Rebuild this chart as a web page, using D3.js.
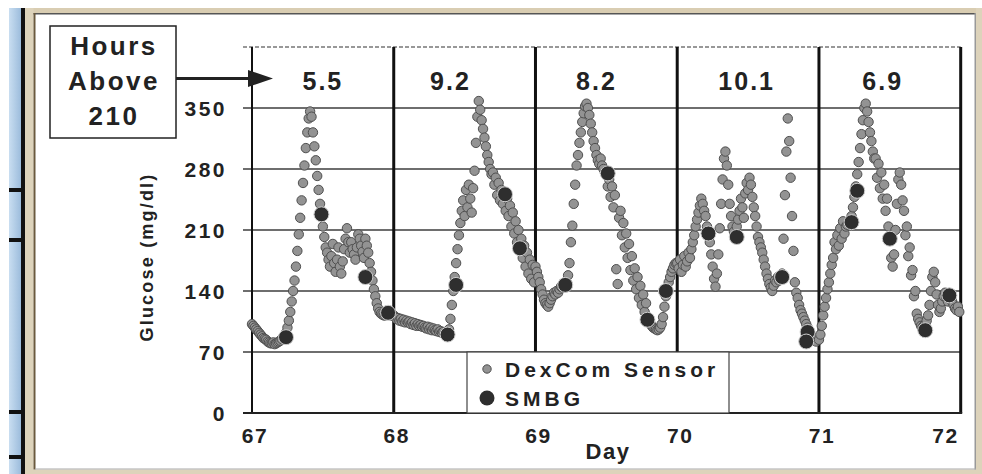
<!DOCTYPE html>
<html>
<head>
<meta charset="utf-8">
<script src="https://cdnjs.cloudflare.com/ajax/libs/d3/7.8.5/d3.min.js"></script>
<style>
body { margin: 0; background: #fff; }
svg { display: block; font-family: "Liberation Sans", Arial, sans-serif; font-weight: bold; }
</style>
</head>
<body>
<svg width="982" height="474"></svg>
<script>
const days = [67, 68, 69, 70, 71, 72]
const yTicks = [0, 70, 140, 210, 280, 350]
const hoursAbove = ["5.5", "9.2", "8.2", "10.1", "6.9"]
const hoursAt = [67.5, 68.4, 69.43, 70.49, 71.45]

// sensor readings, one every 0.01 day starting at each day
const sensorStep = 0.01
const sensor67 = [
  102, 100, 98, 96, 94, 92, 90, 88, 86, 85,
  84, 82, 81, 80, 80, 81, 79, 80, 81, 82,
  83, 85, 87, 89, 92, 98, 106, 116, 128, 140,
  152, 168, 186, 205, 224, 244, 264, 284, 304, 322,
  338, 346, 340, 322, 306, 290, 272, 256, 240, 226,
  214, 202, 190, 184, 176, 168, 180, 194, 172, 162,
  176, 190, 168, 160, 174, 188, 200, 212, 196, 184,
  196, 188, 182, 176, 190, 205, 200, 192, 185, 178,
  200, 192, 184, 172, 162, 152, 142, 134, 126, 120,
  116, 114, 113, 112, 112, 113, 114, 113, 112, 112]
const sensor68 = [
  112, 110, 108, 109, 106, 108, 105, 107, 104, 106,
  104, 105, 102, 104, 101, 103, 100, 102, 100, 101,
  99, 100, 98, 97, 99, 96, 98, 95, 97, 95,
  94, 96, 93, 94, 92, 93, 91, 92, 93, 96,
  108, 124, 140, 156, 172, 188, 204, 218, 232, 244,
  226, 256, 236, 262, 246, 230, 258, 278, 310, 340,
  358, 348, 336, 326, 316, 306, 296, 288, 280, 274,
  276, 262, 270, 250, 264, 244, 256, 240, 250, 232,
  246, 226, 238, 214, 230, 206, 220, 196, 210, 188,
  200, 178, 192, 168, 184, 160, 176, 154, 170, 150]
const sensor69 = [
  168, 162, 156, 150, 142, 136, 130, 126, 124, 122,
  126, 130, 134, 138, 136, 140, 138, 142, 145, 144,
  148, 146, 150, 158, 172, 196, 215, 240, 262, 284,
  296, 310, 322, 334, 344, 352, 355, 350, 342, 332,
  322, 312, 304, 296, 290, 286, 292, 284, 280, 276,
  274, 260, 268, 248, 260, 236, 250, 165, 148, 224,
  232, 204, 218, 190, 206, 178, 194, 164, 180, 152,
  166, 142, 156, 132, 146, 124, 136, 116, 126, 110,
  106, 103, 100, 98, 97, 96, 95, 96, 98, 102,
  110, 122, 134, 142, 150, 156, 162, 166, 170, 172]
const sensor70 = [
  172, 166, 176, 162, 170, 180, 168, 174, 184, 178,
  188, 196, 204, 214, 222, 230, 238, 246, 240, 232,
  226, 214, 206, 196, 182, 168, 154, 145, 160, 182,
  212, 240, 268, 292, 300, 284, 262, 240, 226, 214,
  208, 202, 214, 222, 232, 246, 236, 224, 252, 264,
  256, 270, 262, 248, 236, 226, 214, 202, 196, 190,
  184, 176, 168, 160, 154, 148, 144, 140, 146, 152,
  150, 156, 152, 158, 160, 200, 250, 300, 338, 312,
  270, 226, 186, 150, 138, 132, 124, 118, 114, 110,
  106, 102, 98, 94, 90, 88, 86, 84, 82, 86]
const sensor71 = [
  84, 90, 100, 112, 122, 132, 142, 150, 160, 170,
  178, 196, 188, 204, 192, 212, 200, 220, 206, 214,
  216, 218, 220, 226, 236, 248, 260, 274, 288, 304,
  320, 336, 350, 355, 346, 334, 322, 312, 300, 292,
  292, 270, 286, 258, 276, 246, 262, 232, 246, 214,
  200, 178, 168, 182, 210, 240, 268, 276, 262, 244,
  232, 204, 214, 180, 190, 158, 164, 134, 140, 114,
  108, 104, 100, 98, 100, 102, 106, 112, 124, 140,
  156, 162, 150, 136, 124, 116, 120, 128, 134, 138,
  132, 128, 136, 132, 128, 124, 120, 118, 122, 116]

// finger stick readings
const smbgDay = [67.24, 67.49, 67.80, 67.96, 68.38, 68.44, 68.785, 68.89, 69.21, 69.51,
  69.79, 69.92, 70.22, 70.42, 70.74, 70.92, 70.91, 71.23, 71.27, 71.50, 71.75, 71.92]
const smbgValue = [87, 228, 156, 115, 90, 147, 251, 189, 147, 275,
  107, 140, 206, 202, 156, 93, 82, 219, 255, 200, 95, 135]

const svg = d3.select("svg")

let sensor = []
;[sensor67, sensor68, sensor69, sensor70, sensor71].forEach((arr, k) => {
  arr.forEach((v, i) => sensor.push({day: days[k] + i * sensorStep, value: v}))
})
let smbg = smbgDay.map((d, i) => ({day: d, value: smbgValue[i]}))

let x = d3.scaleLinear().domain([67, 72]).range([252, 960.7])
let y = d3.scaleLinear().domain([0, 420]).range([413, 47])

// window frame
let frame = svg.append("g")
let grad = svg.append("defs").append("linearGradient").attr("id", "blue")
grad.append("stop").attr("offset", "0%").attr("stop-color", "#c9def1")
grad.append("stop").attr("offset", "100%").attr("stop-color", "#9cbcdc")
frame.append("rect").attr("x", 9).attr("y", 8).attr("width", 12).attr("height", 466).attr("fill", "url(#blue)")
frame.selectAll(".bar").data([188, 238, 410, 455]).join("rect")
  .attr("x", 9).attr("y", d => d).attr("width", 12).attr("height", 4).attr("fill", "#111")
frame.append("rect").attr("x", 21).attr("y", 8).attr("width", 4).attr("height", 466).attr("fill", "#111")
frame.append("rect").attr("x", 25).attr("y", 8).attr("width", 957).attr("height", 5.5).attr("fill", "#d9cdb2")
frame.append("rect").attr("x", 25).attr("y", 8).attr("width", 8.5).attr("height", 466).attr("fill", "#ddd3bb")
frame.append("rect").attr("x", 976).attr("y", 8).attr("width", 6).attr("height", 466).attr("fill", "#ddd3bb")
frame.append("rect").attr("x", 25).attr("y", 469.5).attr("width", 957).attr("height", 4.5).attr("fill", "#ddd3bb")
frame.append("rect").attr("x", 33.5).attr("y", 13).attr("width", 942).attr("height", 1.5).attr("fill", "#555")
frame.append("rect").attr("x", 33.5).attr("y", 13).attr("width", 2).attr("height", 456.5).attr("fill", "#6b5a3e")
frame.append("rect").attr("x", 974.5).attr("y", 13).attr("width", 1.5).attr("height", 456.5).attr("fill", "#999")
frame.append("rect").attr("x", 35).attr("y", 468.5).attr("width", 941).attr("height", 1).attr("fill", "#aaa")

// grid
svg.append("g").selectAll("line").data(yTicks.slice(1)).join("line")
  .attr("x1", 243).attr("x2", x(72)).attr("y1", d => y(d)).attr("y2", d => y(d))
  .attr("stroke", "#6e6e6e").attr("stroke-width", 2)
svg.append("line").attr("x1", 243).attr("x2", x(72)).attr("y1", y(420)).attr("y2", y(420))
  .attr("stroke", "#777").attr("stroke-width", 1.5).attr("stroke-dasharray", "4,2")

svg.append("g").selectAll("line").data(days).join("line")
  .attr("x1", d => x(d)).attr("x2", d => x(d)).attr("y1", y(420)).attr("y2", y(0))
  .attr("stroke", "#111").attr("stroke-width", d => d === 67 ? 2 : 3)
svg.append("line").attr("x1", 243).attr("x2", x(72) + 1.5).attr("y1", y(0)).attr("y2", y(0))
  .attr("stroke", "#222").attr("stroke-width", 2)

// data
svg.append("g").selectAll("circle").data(sensor).join("circle")
  .attr("cx", d => x(d.day)).attr("cy", d => y(d.value)).attr("r", 4.7)
  .attr("fill", "#939393").attr("stroke", "#4f4f4f").attr("stroke-width", 1)
svg.append("g").selectAll("circle").data(smbg).join("circle")
  .attr("cx", d => x(d.day)).attr("cy", d => y(d.value)).attr("r", 7.5)
  .attr("fill", "#2e2e2e").attr("stroke", "#cfcfcf").attr("stroke-width", 1)

// legend
let legend = svg.append("g")
legend.append("rect").attr("x", 467).attr("y", y(70)).attr("width", 262).attr("height", y(0) - y(70))
  .attr("fill", "#fff").attr("stroke", "#444").attr("stroke-width", 1.2)
legend.append("circle").attr("cx", 487).attr("cy", 369).attr("r", 4.2)
  .attr("fill", "#939393").attr("stroke", "#4f4f4f").attr("stroke-width", 1)
legend.append("circle").attr("cx", 487).attr("cy", 398).attr("r", 7.5).attr("fill", "#2e2e2e")
legend.append("text").attr("x", 505).attr("y", 377).attr("font-size", 21).attr("letter-spacing", 4)
  .attr("fill", "#222").text("DexCom Sensor")
legend.append("text").attr("x", 505).attr("y", 406).attr("font-size", 21).attr("letter-spacing", 4)
  .attr("fill", "#222").text("SMBG")

// axes text
svg.append("g").selectAll("text").data(yTicks).join("text")
  .attr("x", 227).attr("y", d => y(d)).attr("dy", "0.36em").attr("text-anchor", "end")
  .attr("font-size", 21).attr("letter-spacing", 2.5).attr("fill", "#222").text(d => d)
svg.append("g").selectAll("text").data(days).join("text")
  .attr("x", d => d === 72 ? x(d) - 2 : x(d) + 3).attr("y", 443)
  .attr("text-anchor", d => d === 72 ? "end" : "middle")
  .attr("font-size", 21).attr("letter-spacing", 1.5).attr("fill", "#222").text(d => d)
svg.append("text").attr("x", 608).attr("y", 459).attr("text-anchor", "middle")
  .attr("font-size", 22).attr("letter-spacing", 1.5).attr("fill", "#222").text("Day")
svg.append("text").attr("transform", "translate(147,257) rotate(-90)").attr("dy", "0.36em")
  .attr("text-anchor", "middle").attr("font-size", 18).attr("letter-spacing", 2.2)
  .attr("fill", "#222").text("Glucose (mg/dl)")

// hours above 210 per day
svg.append("g").selectAll("text").data(hoursAbove).join("text")
  .attr("x", (d, i) => x(hoursAt[i])).attr("y", 90).attr("text-anchor", "middle")
  .attr("font-size", 25).attr("letter-spacing", 2).attr("fill", "#222").text(d => d)

let box = svg.append("g")
box.append("rect").attr("x", 50).attr("y", 26).attr("width", 126).attr("height", 112)
  .attr("fill", "#fff").attr("stroke", "#222").attr("stroke-width", 1.5)
box.selectAll("text").data(["Hours", "Above", "210"]).join("text")
  .attr("x", 114).attr("y", (d, i) => 55 + i * 35).attr("text-anchor", "middle")
  .attr("font-size", 26).attr("letter-spacing", 2.5).attr("fill", "#222").text(d => d)
box.append("line").attr("x1", 176).attr("x2", 252).attr("y1", 78.5).attr("y2", 78.5)
  .attr("stroke", "#222").attr("stroke-width", 3)
box.append("path").attr("d", "M248,70 L273,78.5 L248,87 Z").attr("fill", "#222")
</script>
</body>
</html>
